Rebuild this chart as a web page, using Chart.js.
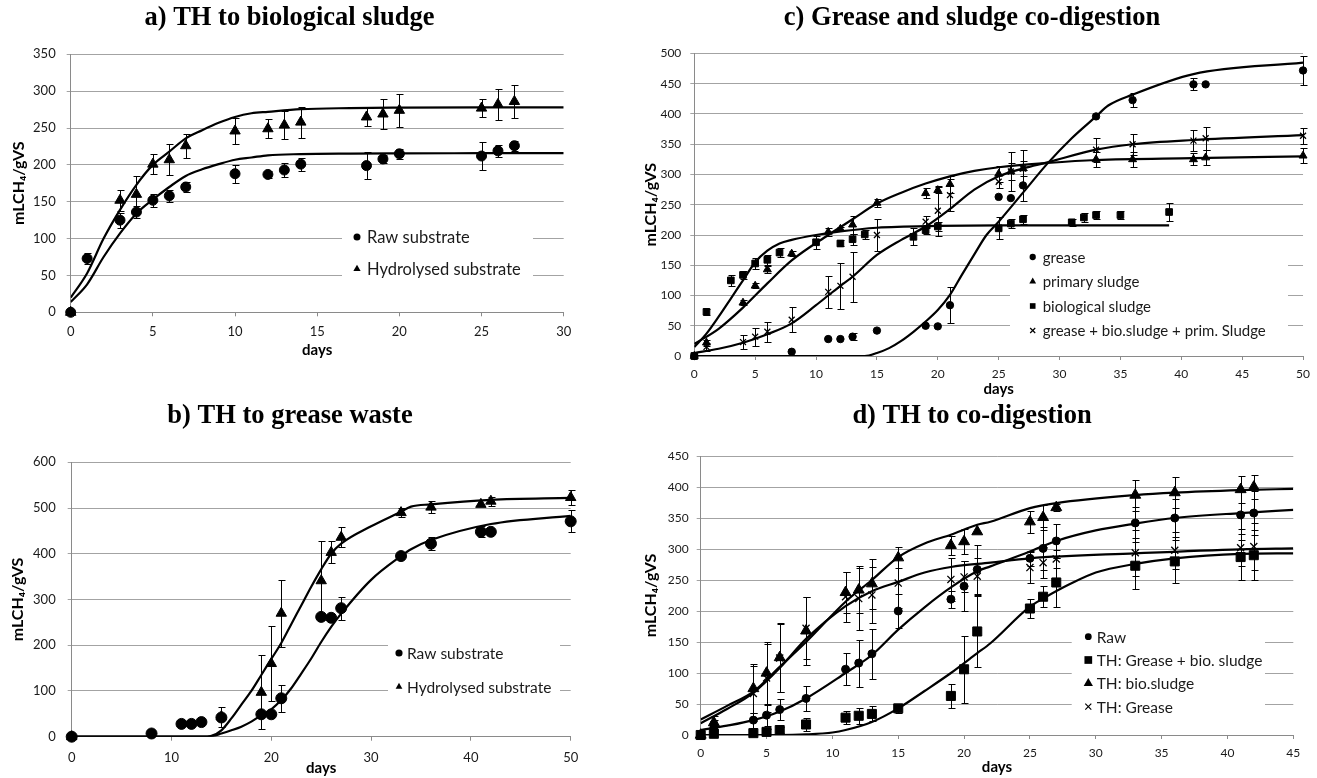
<!DOCTYPE html>
<html>
<head>
<meta charset="utf-8">
<title>Methane yield and thermal hydrolysis</title>
<script src="https://cdn.jsdelivr.net/npm/chart.js@4.4.1/dist/chart.umd.min.js"></script>
<style>
  body { margin: 0; background: #fff; width: 1317px; height: 778px; overflow: hidden; position: relative; }
  canvas { position: absolute; }
</style>
</head>
<body>
<canvas id="chartA" width="640" height="400" style="left:0;top:0"></canvas>
<canvas id="chartC" width="677" height="400" style="left:640px;top:0"></canvas>
<canvas id="chartB" width="640" height="380" style="left:0;top:398px"></canvas>
<canvas id="chartD" width="677" height="380" style="left:640px;top:398px"></canvas>
<script>
// ---- a) TH to biological sludge ----
const aRawDays = [0, 1, 3, 4, 5, 6, 7, 10, 12, 13, 14, 18, 19, 20, 25, 26, 27];
const aRawVals = [0, 73, 125, 136, 152, 158, 170, 188, 187, 193, 201, 199, 208, 215, 212, 219, 226];
const aRawErr  = [0, 7, 10, 8, 9, 8, 7, 12, 5, 9, 9, 18, 5, 7, 19, 8, 7];
const aHydDays = [0, 3, 4, 5, 6, 7, 10, 12, 13, 14, 18, 19, 20, 25, 26, 27];
const aHydVals = [0, 152, 160, 201, 207, 226, 246, 249, 254, 258, 265, 269, 274, 277, 282, 286];
const aHydErr  = [0, 14, 25, 14, 21, 16, 18, 13, 19, 21, 12, 20, 22, 12, 21, 23];
const aFitDays = [0, 1, 2, 3, 4, 5, 6, 7, 8, 9, 10, 11, 12, 14, 17, 20, 25, 30];
const aRawFit  = [14, 38, 75, 107, 134, 153, 170, 185, 194, 201, 207, 210, 213, 214.6, 215.3, 215.6, 215.8, 216];
const aHydFit  = [20, 53, 100, 139, 173, 200, 218, 236, 247, 257, 265, 270, 272, 275.5, 277, 277.6, 278, 278];

// ---- b) TH to grease waste ----
const bRawDays = [0, 8, 11, 12, 13, 15, 19, 20, 21, 25, 26, 27, 33, 36, 41, 42, 50];
const bRawVals = [0, 7, 28, 28, 32, 42, 49, 49, 84, 262, 260, 281, 395, 422, 448, 448, 471];
const bRawErr  = [0, 0, 0, 0, 5, 0, 0, 0, 30, 0, 0, 25, 0, 14, 12, 0, 24];
const bHydDays = [0, 15, 19, 20, 21, 25, 26, 27, 33, 36, 41, 42, 50];
const bHydVals = [0, 44, 97, 160, 270, 341, 403, 436, 490, 502, 508, 515, 523];
const bHydErr  = [0, 22, 81, 81, 73, 86, 24, 22, 9, 13, 0, 10, 16];
const bRawFitDays = [0, 13, 14, 15, 16, 17, 18, 19, 20, 21, 22, 23, 24, 25, 26, 27, 30, 33, 34, 36, 42, 50];
const bRawFit     = [0, 0, 1, 7, 14, 22, 33, 47, 60, 80, 106, 138, 171, 207, 240, 269, 343, 395, 410, 430, 465, 483];
const bHydFitDays = [0, 13, 14, 15, 16, 17, 18, 19, 20, 21, 22, 23, 24, 25, 26, 27, 30, 33, 34, 36, 42, 50];
const bHydFit     = [0, 0, 2, 14, 40, 70, 100, 135, 170, 205, 246, 287, 328, 366, 400, 422, 460, 492, 503, 508, 518, 522];

// ---- c) Grease and sludge co-digestion ----
const cGreaseDays = [0, 8, 11, 12, 13, 15, 19, 20, 21, 25, 26, 27, 33, 36, 41, 42, 50];
const cGreaseVals = [0, 7, 28, 28, 32, 42, 50, 49, 84, 263, 261, 282, 396, 423, 449, 449, 472];
const cGreaseErr  = [0, 0, 0, 0, 6, 0, 0, 0, 30, 0, 0, 26, 0, 12, 10, 0, 24];
const cPrimDays = [0, 1, 4, 5, 6, 8, 11, 12, 13, 15, 19, 20, 21, 25, 26, 27, 33, 36, 41, 42, 50];
const cPrimVals = [0, 22, 88, 116, 143, 169, 205, 210, 217, 253, 269, 274, 284, 301, 305, 310, 325, 325, 325, 328, 331];
const cPrimErr  = [0, 5, 4, 4, 6, 4, 6, 4, 15, 6, 8, 5, 14, 13, 14, 12, 12, 12, 10, 12, 12];
const cBioDays = [0, 1, 3, 4, 5, 6, 7, 10, 12, 13, 14, 18, 19, 20, 25, 26, 27, 31, 32, 33, 35, 39];
const cBioVals = [0, 73, 125, 134, 153, 159, 171, 188, 186, 193, 201, 197, 208, 214, 211, 219, 226, 221, 229, 233, 233, 238];
const cBioErr  = [0, 5, 9, 7, 9, 8, 7, 11, 5, 9, 8, 14, 6, 8, 18, 8, 7, 6, 8, 7, 6, 15];
const cMixDays = [0, 1, 4, 5, 6, 8, 11, 12, 13, 15, 19, 20, 21, 25, 26, 27, 33, 36, 41, 42, 50];
const cMixVals = [0, 15, 23, 32, 40, 60, 106, 116, 131, 200, 222, 240, 266, 288, 305, 310, 341, 350, 356, 360, 364];
const cMixErr  = [0, 6, 12, 15, 17, 21, 27, 38, 41, 26, 10, 41, 26, 11, 32, 30, 20, 17, 17, 19, 13];
const cGreaseFitDays = [0, 14, 15, 16, 17, 18, 19, 20, 21, 22, 23, 24, 25, 27, 29, 31, 33, 34, 36, 41, 50];
const cGreaseFit     = [0, 0, 5, 13, 25, 40, 57, 76, 101, 135, 168, 200, 222, 270, 318, 360, 396, 414, 432, 466, 485];
const cPrimFitDays = [0, 2, 4, 6, 8, 11, 13, 15, 17, 19, 21, 23, 25, 29, 33, 41, 50];
const cPrimFit     = [20, 45, 80, 120, 158, 200, 226, 252, 270, 285, 297, 306, 312, 319, 324, 327, 330];
const cBioFitDays = [0, 1, 2, 3, 4, 5, 6, 7, 8, 10, 12, 15, 20, 25, 39];
const cBioFit     = [15, 37, 65, 95, 125, 155, 174, 186, 192, 200, 206, 212, 215, 216, 216];
const cMixFitDays = [0, 2, 4, 6, 8, 10, 11, 12, 13, 15, 17, 19, 21, 23, 25, 27, 29, 33, 36, 41, 50];
const cMixFit     = [5, 12, 22, 36, 54, 84, 100, 116, 131, 167, 192, 214, 243, 275, 297, 310, 320, 341, 350, 357, 365];

// ---- d) TH to co-digestion ----
const dDays = [0, 1, 4, 5, 6, 8, 11, 12, 13, 15, 19, 20, 21, 25, 26, 27, 33, 36, 41, 42];
const dRawVals = [0, 12, 24, 32, 41, 59, 106, 116, 131, 200, 219, 240, 267, 285, 301, 313, 342, 350, 355, 358];
const dRawErr  = [0, 5, 12, 17, 17, 20, 26, 38, 40, 27, 14, 40, 39, 12, 35, 27, 25, 30, 40, 35];
const dGbVals = [0, 2, 3, 5, 8, 17, 28, 31, 34, 43, 63, 106, 167, 204, 223, 246, 273, 280, 287, 290];
const dGbErr  = [0, 0, 3, 4, 5, 10, 10, 13, 12, 7, 19, 54, 58, 15, 17, 40, 38, 35, 37, 40];
const dBioVals = [0, 20, 75, 100, 125, 168, 230, 234, 244, 286, 306, 312, 328, 344, 351, 367, 387, 391, 396, 400];
const dBioErr  = [0, 10, 40, 50, 55, 55, 33, 38, 40, 17, 15, 20, 0, 18, 20, 6, 25, 25, 22, 20];
const dGreaseVals = [0, 16, 67, 92, 124, 172, 223, 220, 226, 245, 251, 255, 256, 270, 278, 284, 294, 298, 302, 304];
const dGreaseErr  = [0, 8, 45, 55, 55, 50, 40, 50, 45, 40, 35, 25, 30, 25, 25, 15, 37, 30, 30, 38];
const dRawFitDays = [0, 2, 4, 6, 8, 11, 13, 15, 17, 19, 21, 22, 25, 27, 30, 33, 36, 41, 45];
const dRawFit     = [8, 15, 24, 38, 59, 100, 129, 170, 206, 238, 264, 272, 296, 313, 330, 341, 350, 358, 363];
const dGbFitDays = [0, 6, 8, 10, 11, 13, 15, 17, 19, 21, 22, 25, 26, 28, 30, 33, 36, 41, 45];
const dGbFit     = [0, 0, 1, 4, 8, 21, 43, 71, 100, 132, 148, 207, 220, 243, 262, 276, 285, 292, 293];
const dBioFitDays = [0, 2, 4, 6, 8, 11, 13, 15, 17, 19, 21, 22, 25, 27, 33, 36, 41, 45];
const dBioFit     = [25, 47, 70, 110, 150, 215, 250, 287, 309, 323, 339, 344, 366, 374, 387, 391, 395, 397];
const dGreaseFitDays = [0, 2, 4, 6, 8, 11, 13, 15, 17, 19, 22, 25, 33, 41, 45];
const dGreaseFit     = [19, 42, 68, 108, 155, 208, 232, 247, 262, 271, 278, 285, 293, 299.5, 301];

const yTitle = 'mLCH\u2084/gVS';
const xTitle = 'days';

const GRID = '#a3a3a3';
const AXIS = '#8a8a8a';

Chart.defaults.font.family = 'Lato, "DejaVu Sans", sans-serif';
Chart.defaults.color = '#1a1a1a';

function pts(days, vals) {
    return days.map((d, i) => ({ x: d, y: vals[i] }));
}

function markers(label, days, vals, errs, style, radius) {
    return {
        label: label,
        data: pts(days, vals),
        errorBars: errs,
        showLine: false,
        pointStyle: style,
        pointRadius: radius,
        pointHoverRadius: radius,
        backgroundColor: '#000',
        borderColor: '#000',
        borderWidth: style === 'crossRot' ? 1.3 : 1,
        clip: false, // points sitting on the axes stay whole
        order: 0
    };
}

function curve(days, vals) {
    return {
        data: pts(days, vals),
        showLine: true,
        pointRadius: 0,
        borderColor: '#000',
        borderWidth: 2.2,
        cubicInterpolationMode: 'monotone',
        fill: false,
        order: 1
    };
}

// same shapes Chart.js uses for points, reused for the legend keys
function drawMarker(ctx, style, x, y, r) {
    const h = r * Math.SQRT1_2;
    ctx.beginPath();
    if (style === 'circle') {
        ctx.arc(x, y, r, 0, Math.PI * 2);
        ctx.fill();
    } else if (style === 'triangle') {
        ctx.moveTo(x, y - r);
        ctx.lineTo(x + r * 0.866, y + r / 2);
        ctx.lineTo(x - r * 0.866, y + r / 2);
        ctx.closePath();
        ctx.fill();
    } else if (style === 'rect') {
        ctx.fillRect(x - h, y - h, 2 * h, 2 * h);
    } else {
        ctx.moveTo(x - h, y - h); ctx.lineTo(x + h, y + h);
        ctx.moveTo(x - h, y + h); ctx.lineTo(x + h, y - h);
        ctx.stroke();
    }
}

const errorBarPlugin = {
    id: 'errorBars',
    beforeDatasetsDraw(chart) {
        const ctx = chart.ctx;
        const xs = chart.scales.x, ys = chart.scales.y;
        ctx.save();
        ctx.strokeStyle = '#000';
        ctx.lineWidth = 1;
        chart.data.datasets.forEach(ds => {
            if (!ds.errorBars) return;
            ds.data.forEach((p, i) => {
                const e = ds.errorBars[i];
                if (!e) return;
                const px = Math.round(xs.getPixelForValue(p.x)) + 0.5;
                const top = Math.round(ys.getPixelForValue(p.y + e)) + 0.5;
                const bot = Math.round(ys.getPixelForValue(Math.max(p.y - e, 0))) + 0.5;
                ctx.beginPath();
                ctx.moveTo(px, top); ctx.lineTo(px, bot);
                ctx.moveTo(px - 3, top); ctx.lineTo(px + 4, top);
                ctx.moveTo(px - 3, bot); ctx.lineTo(px + 4, bot);
                ctx.stroke();
            });
        });
        ctx.restore();
    }
};

// legend sitting inside the plot on a white patch
const boxLegendPlugin = {
    id: 'boxLegend',
    beforeDatasetsDraw(chart, args, opts) {
        const ctx = chart.ctx;
        ctx.save();
        ctx.fillStyle = '#fff';
        ctx.fillRect(opts.left, opts.top, opts.width, opts.height);
        ctx.fillStyle = '#000';
        ctx.strokeStyle = '#000';
        ctx.lineWidth = 1.2;
        ctx.font = opts.font;
        ctx.textBaseline = 'middle';
        chart.data.datasets.filter(ds => ds.label).forEach((ds, i) => {
            const cy = opts.firstRow + i * opts.rowGap;
            drawMarker(ctx, ds.pointStyle, opts.markerX, cy, ds.pointRadius * opts.markerScale);
            ctx.fillStyle = '#1a1a1a';
            ctx.fillText(ds.label, opts.textX, cy + 1);
            ctx.fillStyle = '#000';
        });
        ctx.restore();
    }
};

const panelTitlePlugin = {
    id: 'panelTitle',
    afterDraw(chart, args, opts) {
        const ctx = chart.ctx;
        ctx.save();
        ctx.font = 'bold 26.5px "Liberation Serif", "Times New Roman", serif';
        ctx.fillStyle = '#000';
        ctx.textAlign = 'center';
        ctx.textBaseline = 'middle';
        ctx.fillText(opts.text, opts.x, opts.y);
        ctx.restore();
    }
};

function buildChart(id, cfg) {
    return new Chart(document.getElementById(id), {
        type: 'scatter',
        data: { datasets: cfg.datasets },
        options: {
            responsive: false,
            animation: false,
            events: [],
            layout: { padding: cfg.padding },
            plugins: {
                legend: { display: false },
                tooltip: { enabled: false },
                boxLegend: cfg.legend,
                panelTitle: cfg.title
            },
            scales: {
                x: {
                    type: 'linear',
                    min: 0,
                    max: cfg.xMax,
                    ticks: { stepSize: cfg.xStep, padding: cfg.xTickPad, font: { size: cfg.tickSize }, maxRotation: 0, autoSkip: false },
                    grid: { drawOnChartArea: false, tickLength: 4, color: AXIS },
                    border: { color: AXIS },
                    title: { display: true, text: xTitle, font: { size: 15, weight: 'bold' }, padding: 0, color: '#000' },
                    afterFit: s => { s.height = cfg.xHeight; }
                },
                y: {
                    type: 'linear',
                    min: 0,
                    max: cfg.yMax,
                    ticks: { stepSize: cfg.yStep, padding: cfg.yTickPad, font: { size: cfg.tickSize } },
                    grid: { color: GRID, tickLength: 4 },
                    border: { color: AXIS },
                    title: { display: true, text: yTitle, font: { size: 16, weight: 'bold' }, padding: { top: cfg.yTitlePad, bottom: 0 }, color: '#000' },
                    afterFit: s => { s.width = cfg.yWidth; }
                }
            }
        },
        plugins: [errorBarPlugin, boxLegendPlugin, panelTitlePlugin]
    });
}

buildChart('chartA', {
    datasets: [
        markers('Raw substrate', aRawDays, aRawVals, aRawErr, 'circle', 5),
        markers('Hydrolysed substrate', aHydDays, aHydVals, aHydErr, 'triangle', 6),
        curve(aFitDays, aRawFit),
        curve(aFitDays, aHydFit)
    ],
    padding: { top: 54.3, left: 0, right: 76.3, bottom: 41 },
    xMax: 30, xStep: 5, yMax: 350, yStep: 50, tickSize: 13,
    xTickPad: 8, yTickPad: 11, xHeight: 46.7, yWidth: 70.7, yTitlePad: 9,
    title: { text: 'a) TH to biological sludge', x: 289.5, y: 18 },
    legend: { left: 342, top: 220, width: 191, height: 68, firstRow: 237, rowGap: 32, markerX: 357, textX: 367, font: '16.5px Lato', markerScale: 0.7 }
});

buildChart('chartB', {
    datasets: [
        markers('Raw substrate', bRawDays, bRawVals, bRawErr, 'circle', 5.5),
        markers('Hydrolysed substrate', bHydDays, bHydVals, bHydErr, 'triangle', 6),
        curve(bRawFitDays, bRawFit),
        curve(bHydFitDays, bHydFit)
    ],
    padding: { top: 64.3, left: 0, right: 69.3, bottom: 1 },
    xMax: 50, xStep: 10, yMax: 600, yStep: 100, tickSize: 13,
    xTickPad: 9.5, yTickPad: 12, xHeight: 40.3, yWidth: 71.7, yTitlePad: 8,
    title: { text: 'b) TH to grease waste', x: 290, y: 18 },
    legend: { left: 388, top: 234, width: 172, height: 70, firstRow: 255, rowGap: 33.7, markerX: 399, textX: 407, font: '15.5px Lato', markerScale: 0.65 }
});

buildChart('chartC', {
    datasets: [
        markers('grease', cGreaseDays, cGreaseVals, cGreaseErr, 'circle', 3.7),
        markers('primary sludge', cPrimDays, cPrimVals, cPrimErr, 'triangle', 4.6),
        markers('biological sludge', cBioDays, cBioVals, cBioErr, 'rect', 4.7),
        markers('grease + bio.sludge + prim. Sludge', cMixDays, cMixVals, cMixErr, 'crossRot', 4.2),
        curve(cGreaseFitDays, cGreaseFit),
        curve(cPrimFitDays, cPrimFit),
        curve(cBioFitDays, cBioFit),
        curve(cMixFitDays, cMixFit)
    ],
    padding: { top: 53.5, left: 0, right: 12, bottom: 2 },
    xMax: 50, xStep: 5, yMax: 500, yStep: 50, tickSize: 12,
    xTickPad: 7, yTickPad: 9, xHeight: 42, yWidth: 54.3, yTitlePad: 1,
    title: { text: 'c) Grease and sludge co-digestion', x: 332, y: 18 },
    legend: { left: 370, top: 241, width: 278, height: 105, firstRow: 257, rowGap: 24.5, markerX: 392.7, textX: 402.7, font: '15px Lato', markerScale: 0.85 }
});

buildChart('chartD', {
    datasets: [
        markers('Raw', dDays, dRawVals, dRawErr, 'circle', 4),
        markers('TH: Grease + bio. sludge', dDays, dGbVals, dGbErr, 'rect', 6.4),
        markers('TH: bio.sludge', dDays, dBioVals, dBioErr, 'triangle', 6.3),
        markers('TH: Grease', dDays, dGreaseVals, dGreaseErr, 'crossRot', 5),
        curve(dRawFitDays, dRawFit),
        curve(dGbFitDays, dGbFit),
        curve(dBioFitDays, dBioFit),
        curve(dGreaseFitDays, dGreaseFit)
    ],
    padding: { top: 58, left: 0, right: 23.7, bottom: 2 },
    xMax: 45, xStep: 5, yMax: 450, yStep: 50, tickSize: 12,
    xTickPad: 6.5, yTickPad: 8, xHeight: 41, yWidth: 60.7, yTitlePad: 1,
    title: { text: 'd) TH to co-digestion', x: 332, y: 18 },
    legend: { left: 431.7, top: 222, width: 193.3, height: 101, firstRow: 238.7, rowGap: 23.3, markerX: 448.3, textX: 456.7, font: '15.5px Lato', markerScale: 0.85 }
});
</script>
</body>
</html>
